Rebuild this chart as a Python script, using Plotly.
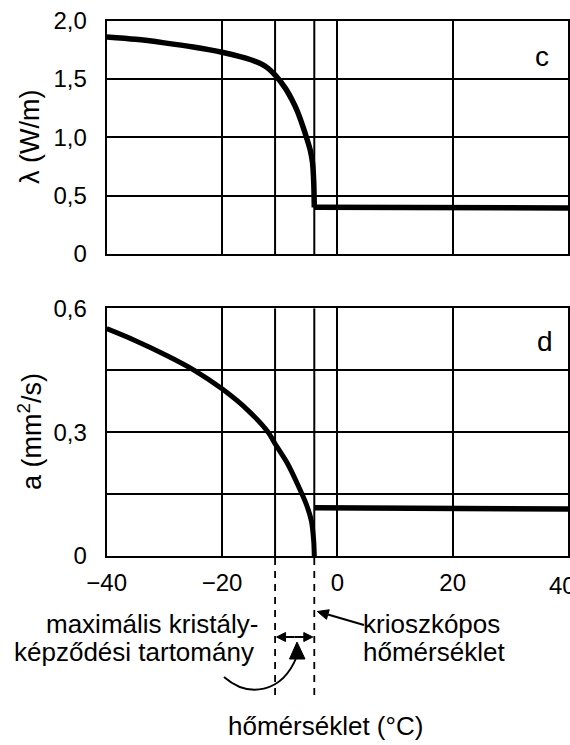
import math
import plotly.graph_objects as go

W, H = 570, 745
FONT = "Liberation Sans, Arial, sans-serif"

# ---- data ----
temp_lambda = [-40, -35, -30, -25, -20, -15, -12.5, -10.7, -9.0, -7.85, -6.9,
               -5.95, -5.3, -4.7, -4.3, -4.1, -4.0]
lam_values = [1.86, 1.84, 1.81, 1.775, 1.73, 1.665, 1.61, 1.53, 1.42,
              1.32, 1.22, 1.09, 0.99, 0.89, 0.78, 0.62, 0.40]
temp_lambda_unfrozen = [-4.0, 40]
lam_unfrozen = [0.40, 0.395]

temp_a_frozen = [-40, -35.2, -29.6, -24.8, -20, -15.5, -12.0, -10.8, -8.6, -6.9, -5.4,
                 -4.5, -4.1, -4.0]
a_frozen = [0.551, 0.523, 0.486, 0.45, 0.405, 0.353, 0.30, 0.272, 0.223, 0.174, 0.126,
            0.085, 0.036, 0.0]
temp_a_unfrozen = [-4.0, 40]
a_unfrozen = [0.117, 0.114]

x_ticks = [-40, -20, 0, 20]
x_last_tick = 40
lam_ticks = [0, 0.5, 1.0, 1.5, 2.0]
lam_ticktext = ["0", "0,5", "1,0", "1,5", "2,0"]
a_ticks = [0, 0.3, 0.6]
a_ticktext = ["0", "0,3", "0,6"]
a_minor = [0.15, 0.45]

t_max_cryst = -10.8   # start of the maximal crystal formation range
t_cryo = -4.0         # cryoscopic temperature


def px(x):
    return x / W


def py(y):
    return 1 - y / H


fig = go.Figure()
line_kw = dict(mode="lines", showlegend=False, hoverinfo="skip")
fig.add_trace(go.Scatter(x=temp_lambda, y=lam_values,
                         line=dict(color="black", width=5.5, shape="spline", smoothing=0.8),
                         xaxis="x", yaxis="y", **line_kw))
fig.add_trace(go.Scatter(x=temp_lambda_unfrozen, y=lam_unfrozen, line=dict(color="black", width=5.5),
                         xaxis="x", yaxis="y", **line_kw))
fig.add_trace(go.Scatter(x=temp_a_frozen, y=a_frozen,
                         line=dict(color="black", width=5, shape="spline", smoothing=0.8),
                         xaxis="x2", yaxis="y2", **line_kw))
fig.add_trace(go.Scatter(x=temp_a_unfrozen, y=a_unfrozen, line=dict(color="black", width=5.5),
                         xaxis="x2", yaxis="y2", **line_kw))

xdom = [px(106.7), px(568)]
tick_font = dict(family=FONT, size=24, color="black")
common_x = dict(range=[-40, 40], tickvals=x_ticks, showgrid=True, gridcolor="black",
                gridwidth=1.5, showline=True, mirror=True, linecolor="black", linewidth=2,
                zeroline=False, ticks="", domain=xdom, tickfont=tick_font, automargin=False)
common_y = dict(showgrid=True, gridcolor="black", gridwidth=1.5, showline=True, mirror=True,
                linecolor="black", linewidth=2, zeroline=False, ticks="", tickfont=tick_font,
                ticklabelstandoff=13, automargin=False)

fig.update_layout(
    width=W, height=H, margin=dict(l=0, r=0, t=0, b=0, pad=0),
    paper_bgcolor="white", plot_bgcolor="white",
    font=dict(family=FONT, color="black"),
    xaxis=dict(common_x, anchor="y", showticklabels=False),
    yaxis=dict(common_y, domain=[py(254), py(20.7)], range=[0, 2.0], tickvals=lam_ticks,
               ticktext=lam_ticktext, anchor="x"),
    xaxis2=dict(common_x, anchor="y2", showticklabels=True, ticklabelstandoff=4),
    yaxis2=dict(common_y, domain=[py(556), py(308.4)], range=[0, 0.6], tickvals=a_ticks,
                ticktext=a_ticktext, anchor="x2",
                minor=dict(tickvals=a_minor, showgrid=True, gridcolor="black", gridwidth=1.5)),
)


# pixel position of a temperature on the x axis (for the annotation geometry only)
def tx(t):
    return 106.7 + (t + 40) / 80 * (568 - 106.7)


shapes = []
# special vertical lines within panels
for t in (t_max_cryst, t_cryo):
    shapes.append(dict(type="line", xref="x", yref="y domain", x0=t, x1=t, y0=0, y1=1,
                       line=dict(color="black", width=2)))
    shapes.append(dict(type="line", xref="x2", yref="y2 domain", x0=t, x1=t, y0=0, y1=1,
                       line=dict(color="black", width=2)))
    # dashed continuation below
    shapes.append(dict(type="line", xref="x2", yref="paper", x0=t, x1=t, y0=py(558), y1=py(697),
                       line=dict(color="black", width=1.8, dash="7px,6px")))


def arrow(x0, y0, x1, y1, head_len=9, head_w=4.5, width=2):
    """Line from (x0,y0) to (x1,y1) in pixels with a filled head at (x1,y1)."""
    dx, dy = x1 - x0, y1 - y0
    L = math.hypot(dx, dy)
    ux, uy = dx / L, dy / L
    bx, by = x1 - ux * head_len, y1 - uy * head_len
    nx, ny = -uy * head_w, ux * head_w
    res = [dict(type="line", xref="paper", yref="paper", x0=px(x0), y0=py(y0),
                x1=px(bx), y1=py(by), line=dict(color="black", width=width))]
    res.append(dict(type="path", xref="paper", yref="paper",
                    path=f"M {px(x1)},{py(y1)} L {px(bx + nx)},{py(by + ny)} L {px(bx - nx)},{py(by - ny)} Z",
                    fillcolor="black", line=dict(color="black", width=1)))
    return res


ymid = 637
xa, xb = tx(t_max_cryst) + 1.5, tx(t_cryo) - 1.5
xc = (xa + xb) / 2
shapes += arrow(xc, ymid, xa, ymid, head_len=9, head_w=4.5)
shapes += arrow(xc, ymid, xb, ymid, head_len=9, head_w=4.5)
# arrow pointing at cryoscopic temperature
shapes += arrow(364, 625, tx(t_cryo) + 3, 611.5, head_len=11, head_w=5)

# curved arrow
shapes.append(dict(type="path", xref="paper", yref="paper",
                   path=f"M {px(224)},{py(677)} C {px(248)},{py(698)} {px(282)},{py(694)} {px(297)},{py(656)}",
                   line=dict(color="black", width=2)))
shapes.append(dict(type="path", xref="paper", yref="paper",
                   path=f"M {px(297)},{py(642)} L {px(289.5)},{py(659)} L {px(305)},{py(659)} Z",
                   fillcolor="black", line=dict(color="black", width=1)))
fig.update_layout(shapes=shapes)

ann = []
# last x tick label, partly cut by the right edge as in the reference
ann.append(dict(xref="x2", yref="paper", x=x_last_tick, xshift=-6, y=py(585), xanchor="center",
                yanchor="middle", text=f"{x_last_tick}", showarrow=False, font=tick_font))

text_font = dict(family=FONT, size=26, color="black")
ann.append(dict(xref="paper", yref="paper", x=px(260), y=py(624), xanchor="right", yanchor="middle",
                text="maximális kristály-", showarrow=False, font=text_font))
ann.append(dict(xref="paper", yref="paper", x=px(256), y=py(652), xanchor="right", yanchor="middle",
                text="képződési tartomány", showarrow=False, font=text_font))
ann.append(dict(xref="paper", yref="paper", x=px(361), y=py(624), xanchor="left", yanchor="middle",
                text="krioszkópos", showarrow=False, font=text_font))
ann.append(dict(xref="paper", yref="paper", x=px(361), y=py(652), xanchor="left", yanchor="middle",
                text="hőmérséklet", showarrow=False, font=text_font))
ann.append(dict(xref="paper", yref="paper", x=px(325), y=py(726), xanchor="center", yanchor="middle",
                text="hőmérséklet (°C)", showarrow=False, font=text_font))

# axis titles
ann.append(dict(xref="paper", yref="paper", x=px(30), y=py(137), textangle=-90,
                xanchor="center", yanchor="middle", text="λ (W/m)", showarrow=False,
                font=dict(family=FONT, size=27, color="black")))
ann.append(dict(xref="paper", yref="paper", x=px(30), y=py(432), textangle=-90,
                xanchor="center", yanchor="middle", text="a (mm<sup>2</sup>/s)", showarrow=False,
                font=dict(family=FONT, size=27, color="black")))
# panel letters
ann.append(dict(xref="paper", yref="paper", x=px(542), y=py(57), xanchor="center", yanchor="middle",
                text="c", showarrow=False, font=dict(family=FONT, size=28, color="black")))
ann.append(dict(xref="paper", yref="paper", x=px(545), y=py(342), xanchor="center", yanchor="middle",
                text="d", showarrow=False, font=dict(family=FONT, size=28, color="black")))
fig.update_layout(annotations=ann)

# remove the browser's default 8px body margin so the figure fills the window exactly
fig.write_html("out.html", config={"displayModeBar": False},
               post_script="document.body.style.margin='0';document.body.style.overflow='hidden';")
